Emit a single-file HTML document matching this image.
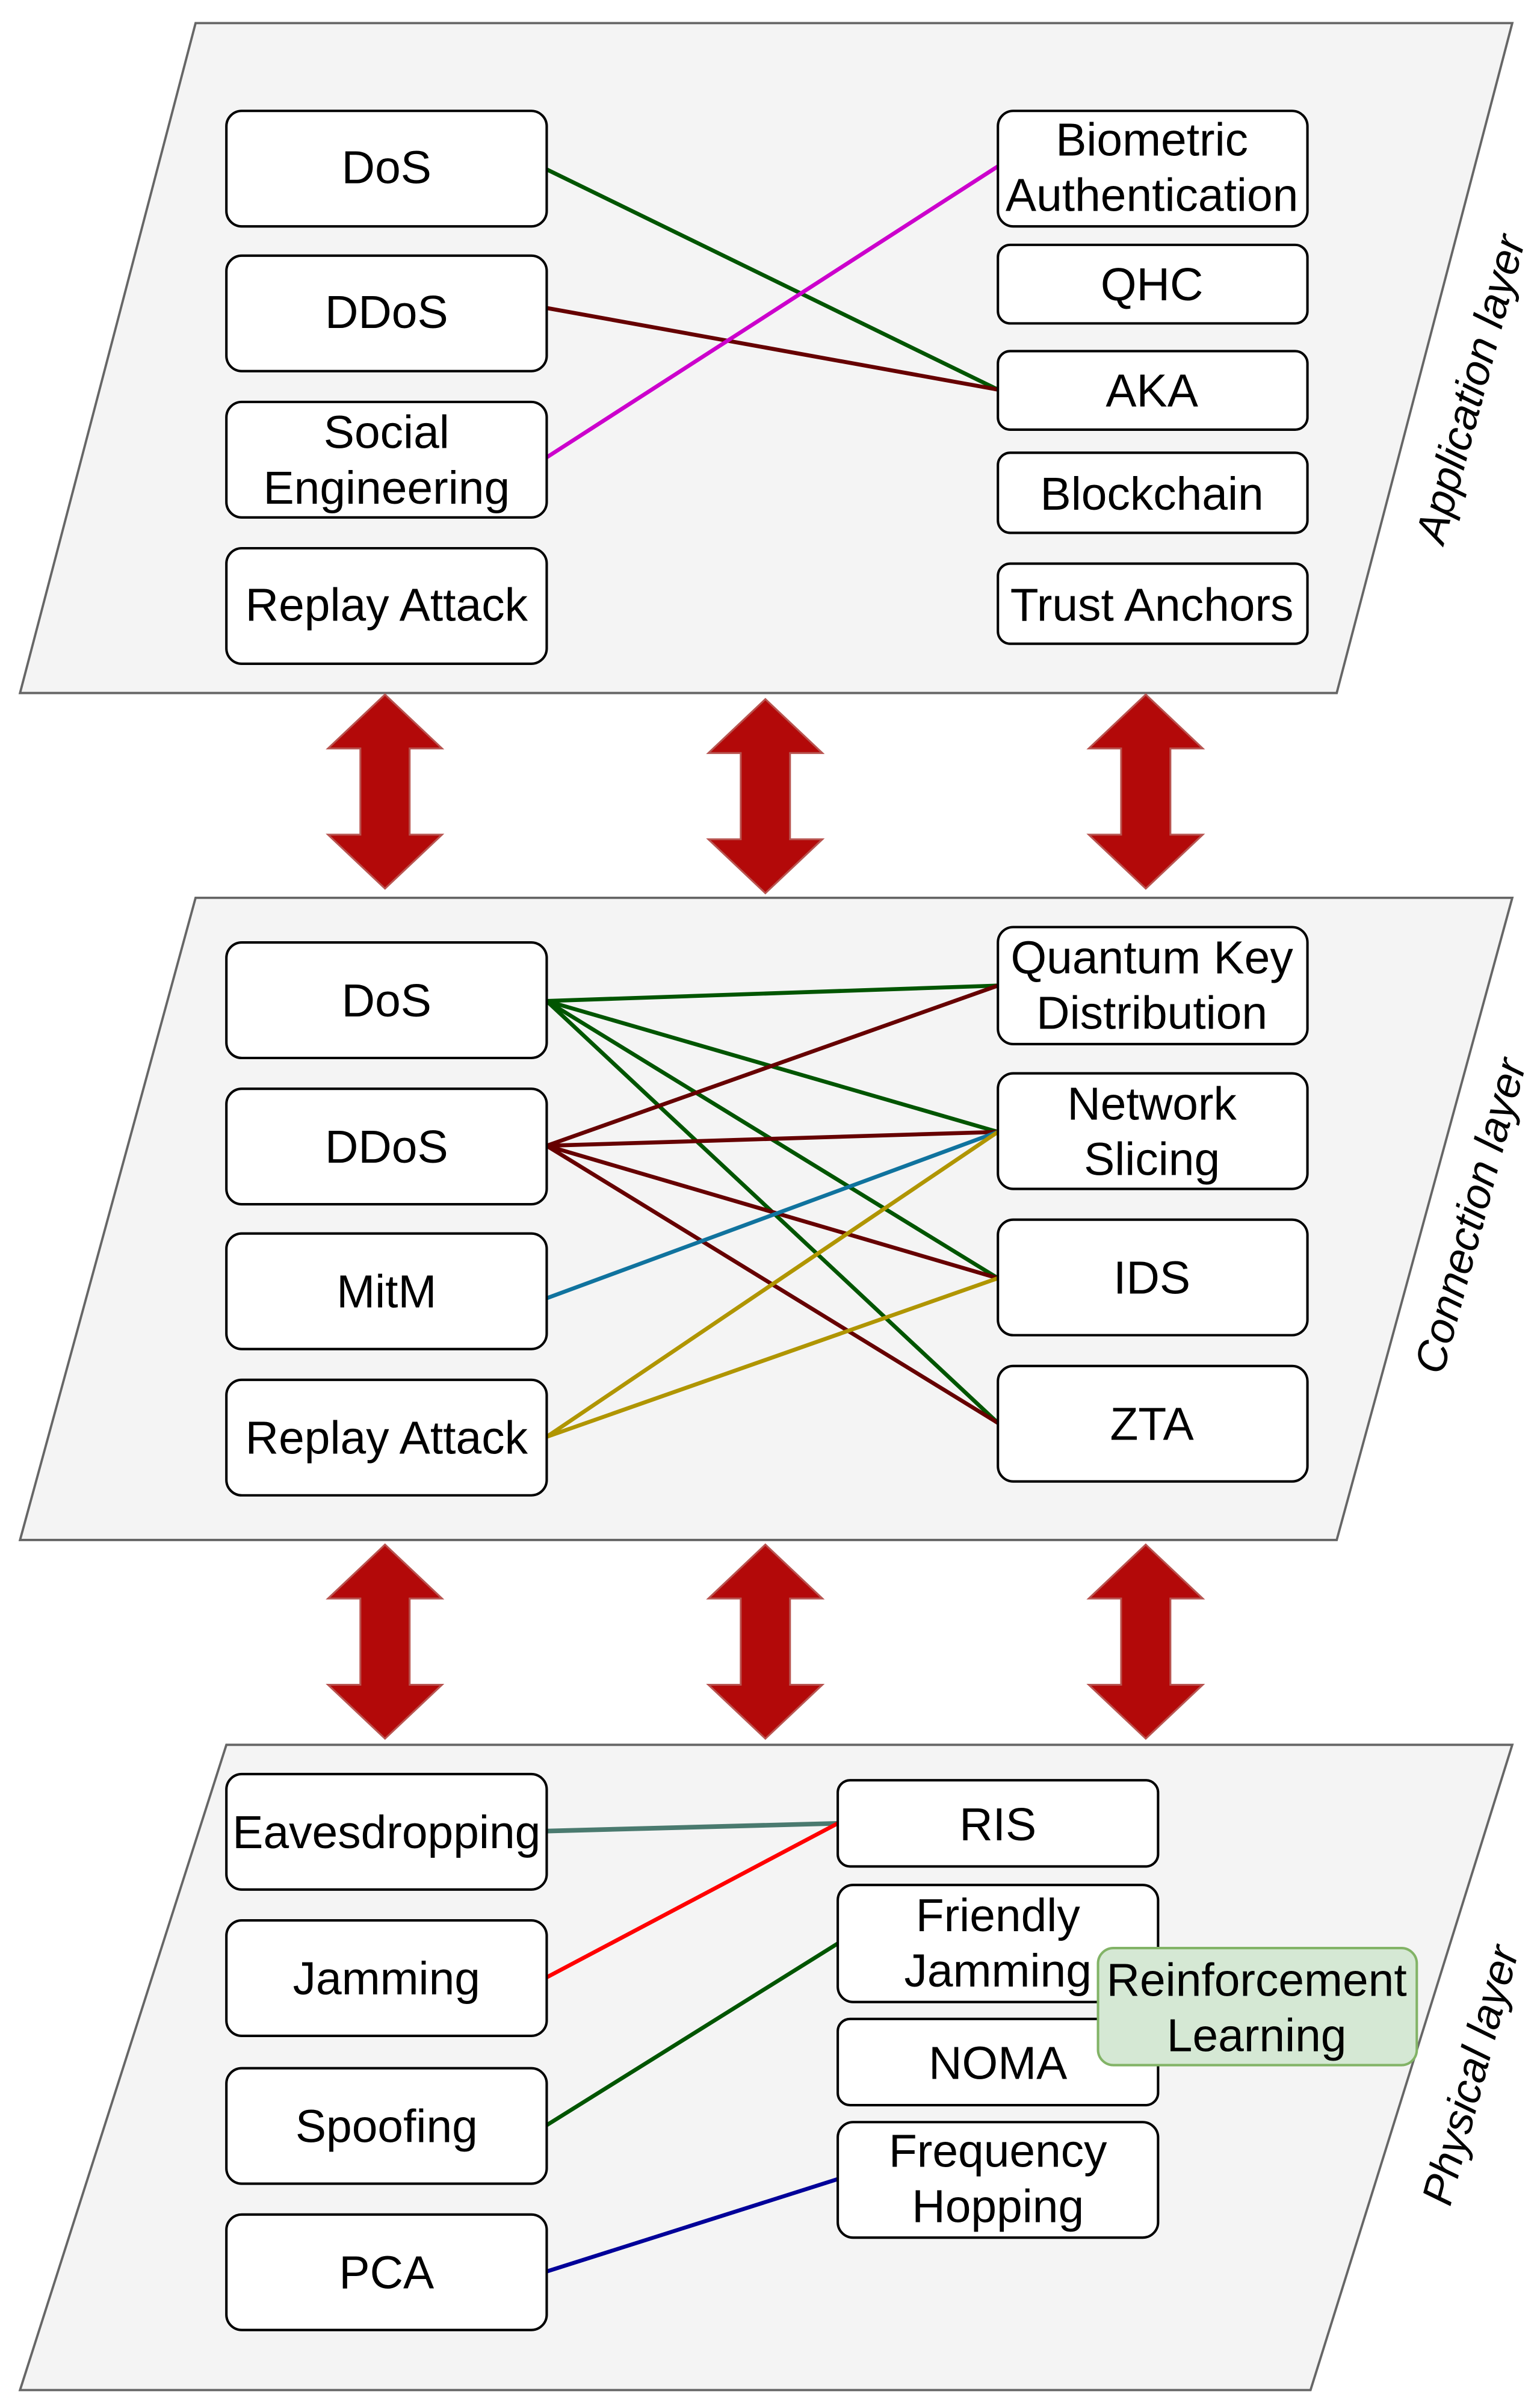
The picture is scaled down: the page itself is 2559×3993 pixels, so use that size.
<!DOCTYPE html>
<html><head><style>html,body{margin:0;padding:0;background:#fff}svg{display:block}</style></head>
<body>
<svg width="2559" height="3993" viewBox="0 0 1000 1560.4" xmlns="http://www.w3.org/2000/svg" font-family="Liberation Sans, sans-serif">
<defs>
<g id="darr">
<polygon points="0,-63 37,-28 16,-28 16,28 37,28 0,63 -37,28 -16,28 -16,-28 -37,-28" fill="#b30909" stroke="#b85450" stroke-width="1.2"/>
</g>
</defs>
<g stroke="#666" stroke-width="1.5" fill="#f4f4f4">
<polygon points="127,15 982,15 868,450 13,450"/>
<polygon points="127,583 982,583 868,1000 13,1000"/>
<polygon points="147,1133 982,1133 851,1552 13,1552"/>
</g>
<use href="#darr" x="250" y="514"/><use href="#darr" x="497" y="517"/><use href="#darr" x="744" y="514"/>
<use href="#darr" x="250" y="1066"/><use href="#darr" x="497" y="1066"/><use href="#darr" x="744" y="1066"/>
<g fill="none" stroke-width="2.6">
<line x1="355" y1="110" x2="648" y2="253" stroke="#005500"/>
<line x1="355" y1="200" x2="648" y2="253" stroke="#660000"/>
<line x1="355" y1="297" x2="648" y2="108" stroke="#cc00cc"/>
<g stroke="#005500"><line x1="355" y1="650" x2="648" y2="640"/><line x1="355" y1="650" x2="648" y2="735"/><line x1="355" y1="650" x2="648" y2="830"/><line x1="355" y1="650" x2="648" y2="924"/></g>
<g stroke="#660000"><line x1="355" y1="744" x2="648" y2="640"/><line x1="355" y1="744" x2="648" y2="735"/><line x1="355" y1="744" x2="648" y2="830"/><line x1="355" y1="744" x2="648" y2="924"/></g>
<line x1="355" y1="843" x2="648" y2="735" stroke="#10739e"/>
<line x1="355" y1="933" x2="648" y2="735" stroke="#b09500"/>
<line x1="355" y1="933" x2="648" y2="830" stroke="#b09500"/>
<line x1="355" y1="1189" x2="544" y2="1184" stroke="#4a7a6f" stroke-width="3"/>
<line x1="355" y1="1284" x2="544" y2="1184" stroke="#ff0000"/>
<line x1="355" y1="1380" x2="544" y2="1262" stroke="#005500"/>
<line x1="355" y1="1475" x2="544" y2="1415" stroke="#000099"/>
</g>
<g fill="#fff" stroke="#000" stroke-width="1.6">
<rect x="147" y="72" width="208" height="75" rx="10"/><rect x="147" y="166" width="208" height="75" rx="10"/>
<rect x="147" y="261" width="208" height="75" rx="10"/><rect x="147" y="356" width="208" height="75" rx="10"/>
<rect x="648" y="72" width="201" height="75" rx="10"/><rect x="648" y="159" width="201" height="51" rx="8"/>
<rect x="648" y="228" width="201" height="51" rx="8"/><rect x="648" y="294" width="201" height="52" rx="8"/>
<rect x="648" y="366" width="201" height="52" rx="8"/>
<rect x="147" y="612" width="208" height="75" rx="10"/><rect x="147" y="707" width="208" height="75" rx="10"/>
<rect x="147" y="801" width="208" height="75" rx="10"/><rect x="147" y="896" width="208" height="75" rx="10"/>
<rect x="648" y="602" width="201" height="76" rx="10"/><rect x="648" y="697" width="201" height="75" rx="10"/>
<rect x="648" y="792" width="201" height="75" rx="10"/><rect x="648" y="887" width="201" height="75" rx="10"/>
<rect x="147" y="1152" width="208" height="75" rx="10"/><rect x="147" y="1247" width="208" height="75" rx="10"/>
<rect x="147" y="1343" width="208" height="75" rx="10"/><rect x="147" y="1438" width="208" height="75" rx="10"/>
<rect x="544" y="1156" width="208" height="56" rx="8"/><rect x="544" y="1224" width="208" height="76" rx="10"/>
<rect x="544" y="1311" width="208" height="56" rx="8"/><rect x="544" y="1378" width="208" height="75" rx="10"/>
</g>
<rect x="713" y="1265" width="207" height="76" rx="10" fill="#d5e8d4" stroke="#82b366" stroke-width="1.6"/>
<g font-size="30" text-anchor="middle" fill="#000">
<text x="251" y="119">DoS</text><text x="251" y="213">DDoS</text>
<text x="251" y="291">Social</text><text x="251" y="327">Engineering</text>
<text x="251" y="403">Replay Attack</text>
<text x="748" y="101">Biometric</text><text x="748" y="137">Authentication</text>
<text x="748" y="195">QHC</text><text x="748" y="264">AKA</text><text x="748" y="331">Blockchain</text><text x="748" y="403">Trust Anchors</text>
<text x="251" y="660">DoS</text><text x="251" y="755">DDoS</text><text x="251" y="849">MitM</text><text x="251" y="944">Replay Attack</text>
<text x="748" y="632">Quantum Key</text><text x="748" y="668">Distribution</text>
<text x="748" y="727">Network</text><text x="748" y="763">Slicing</text>
<text x="748" y="840">IDS</text><text x="748" y="935">ZTA</text>
<text x="251" y="1200">Eavesdropping</text><text x="251" y="1295">Jamming</text><text x="251" y="1391">Spoofing</text><text x="251" y="1486">PCA</text>
<text x="648" y="1195">RIS</text>
<text x="648" y="1254">Friendly</text><text x="648" y="1290">Jamming</text>
<text x="648" y="1350">NOMA</text>
<text x="648" y="1407">Frequency</text><text x="648" y="1443">Hopping</text>
<text x="816" y="1296">Reinforcement</text><text x="816" y="1332">Learning</text>
</g>
<g font-size="28" font-style="italic" text-anchor="middle" fill="#000">
<text transform="translate(964,255) rotate(-75)">Application layer</text>
<text transform="translate(964,792) rotate(-75)">Connection layer</text>
<text transform="translate(964,1350) rotate(-75)">Physical layer</text>
</g>
</svg>
</body></html>
